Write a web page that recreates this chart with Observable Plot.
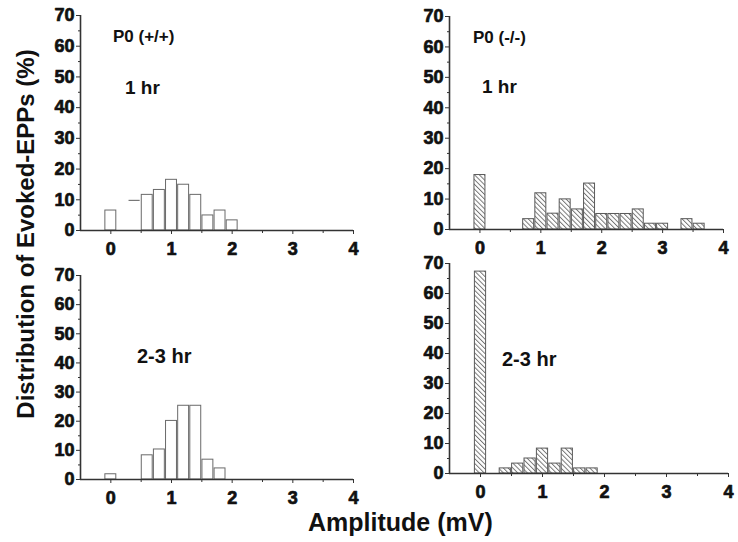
<!DOCTYPE html>
<html>
<head>
<meta charset="utf-8">
<script src="https://cdn.jsdelivr.net/npm/d3@7"></script>
<script src="https://cdn.jsdelivr.net/npm/@observablehq/plot@0.6"></script>
<style>
  body { margin: 0; background: #fff; }
  #chart { position: relative; width: 738px; height: 542px; overflow: hidden; background: #fff;
           font-family: "Liberation Sans", Arial, sans-serif; }
  .panel { position: absolute; }
  #labels { position: absolute; left: 0; top: 0; pointer-events: none; }
</style>
</head>
<body>
<div id="chart"></div>
<script>
// ---- data (bin centres in mV, distribution in %) ----
const binsTL = [0, 0.6, 0.8, 1.0, 1.2, 1.4, 1.6, 1.8, 2.0];
const valsTL = [6.5, 11.6, 13.2, 16.5, 14.9, 11.6, 4.9, 6.5, 3.3];
const dashBinsTL = [0.4];
const dashValsTL = [9.8];

const binsTR = [0, 0.8, 1.0, 1.2, 1.4, 1.6, 1.8, 2.0, 2.2, 2.4, 2.6, 2.8, 3.0, 3.4, 3.6];
const valsTR = [17.9, 3.4, 11.9, 5.2, 9.9, 6.6, 15.1, 5.1, 5.1, 5.1, 6.6, 1.9, 1.9, 3.4, 1.9];

const binsBL = [0, 0.6, 0.8, 1.0, 1.2, 1.4, 1.6, 1.8];
const valsBL = [1.8, 8.3, 10.3, 20.1, 25.3, 25.3, 6.8, 3.8];

const binsBR = [0, 0.4, 0.6, 0.8, 1.0, 1.2, 1.4, 1.6, 1.8];
const valsBR = [67.3, 1.7, 3.3, 5.0, 8.3, 3.3, 8.3, 1.7, 1.7];

const xTicks = [0, 1, 2, 3, 4];
const xMinorTicks = [0.5, 1.5, 2.5, 3.5];
const yTicks = [0, 10, 20, 30, 40, 50, 60, 70];
const yMinorTicks = [5, 15, 25, 35, 45, 55, 65];

const panelTitles = ["P0 (+/+)", "P0 (-/-)"];
const timeLabels = ["1 hr", "1 hr", "2-3 hr", "2-3 hr"];
const xLabel = "Amplitude (mV)";
const yLabel = "Distribution of Evoked-EPPs (%)";

const binWidth = 0.2;
const toRows = (bins, vals) => bins.map((x, i) => ({x, v: vals[i]}));

// ---- hatch pattern defs ----
const chart = document.getElementById("chart");
const NS = "http://www.w3.org/2000/svg";
const defsSvg = document.createElementNS(NS, "svg");
defsSvg.setAttribute("width", 0); defsSvg.setAttribute("height", 0);
defsSvg.style.position = "absolute";
defsSvg.innerHTML = `<defs><pattern id="hatch" patternUnits="userSpaceOnUse" width="3.4" height="3.4" patternTransform="rotate(-45)">
  <rect width="3.4" height="3.4" fill="#fff"></rect>
  <line x1="0.5" y1="0" x2="0.5" y2="3.4" stroke="#6a6a6a" stroke-width="0.9"></line>
</pattern></defs>`;
chart.appendChild(defsSvg);

const FONT = '"Liberation Sans", Arial, sans-serif';
const tickText = {fontWeight: "bold", fontSize: 18, fill: "#111", stroke: "#111", strokeWidth: 0.7, fontFamily: FONT};

function panel({left, top, width, height, mL, mR, mT, mB, rows, hatched, dash}) {
  const marks = [
    Plot.rectY(rows, {x1: d => d.x - binWidth / 2, x2: d => d.x + binWidth / 2, y: "v",
      fill: hatched ? "url(#hatch)" : "#fff", stroke: hatched ? "#5a5a5a" : "#6a6a6a",
      strokeWidth: 1, insetLeft: 0.6, insetRight: 0.6})
  ];
  if (dash) marks.push(Plot.ruleY(dash, {x1: d => d.x - binWidth / 2, x2: d => d.x + binWidth / 2.4, y: "v", stroke: "#777", strokeWidth: 1.2}));
  marks.push(
    Plot.ruleY([0], {stroke: "#333", strokeWidth: 1.6}),
    Plot.ruleX([-0.5], {stroke: "#333", strokeWidth: 1.6}),
    Plot.axisX({ticks: xTicks, label: null, tickSize: 4, text: null, stroke: "#333"}),
    Plot.axisX({ticks: xMinorTicks, label: null, tickSize: 3, text: null, stroke: "#333"}),
    Plot.axisY({ticks: yTicks, label: null, tickSize: 4, text: null, stroke: "#333"}),
    Plot.axisY({ticks: yMinorTicks, label: null, tickSize: 2, text: null, stroke: "#333"}),
    Plot.text(xTicks, {x: d => d, y: 0, text: d => String(d), dy: 19, ...tickText}),
    Plot.text(yTicks, {x: -0.5, y: d => d, text: d => String(d), dx: -6, textAnchor: "end", ...tickText})
  );
  const svg = Plot.plot({
    width, height,
    marginLeft: mL, marginRight: mR, marginTop: mT, marginBottom: mB,
    x: {domain: [-0.5, 4]},
    y: {domain: [0, 70]},
    style: {fontFamily: FONT, fontSize: "18px", color: "#111", background: "transparent", overflow: "visible"},
    marks
  });
  const wrap = document.createElement("div");
  wrap.className = "panel";
  wrap.style.left = left + "px"; wrap.style.top = top + "px";
  wrap.appendChild(svg);
  chart.appendChild(wrap);
}

panel({left: 40, top: 0, width: 330, height: 260, mL: 40, mR: 17, mT: 15, mB: 30,
       rows: toRows(binsTL, valsTL), hatched: false, dash: toRows(dashBinsTL, dashValsTL)});
panel({left: 400, top: 0, width: 338, height: 260, mL: 49, mR: 15, mT: 16, mB: 31,
       rows: toRows(binsTR, valsTR), hatched: true});
panel({left: 40, top: 250, width: 330, height: 260, mL: 40, mR: 17, mT: 25, mB: 31,
       rows: toRows(binsBL, valsBL), hatched: false});
panel({left: 400, top: 250, width: 338, height: 260, mL: 49, mR: 10, mT: 13, mB: 37,
       rows: toRows(binsBR, valsBR), hatched: true});

// ---- text labels ----
const lab = document.createElementNS(NS, "svg");
lab.setAttribute("id", "labels");
lab.setAttribute("width", 738); lab.setAttribute("height", 542);
const texts = [
  {t: panelTitles[0], x: 113, y: 42, s: 17},
  {t: panelTitles[1], x: 473, y: 43, s: 17},
  {t: timeLabels[0], x: 125, y: 94, s: 19},
  {t: timeLabels[1], x: 482, y: 93, s: 19},
  {t: timeLabels[2], x: 137, y: 363, s: 20},
  {t: timeLabels[3], x: 502, y: 366, s: 20},
  {t: xLabel, x: 308, y: 531, s: 25}
];
for (const o of texts) {
  const el = document.createElementNS(NS, "text");
  el.setAttribute("x", o.x); el.setAttribute("y", o.y);
  el.setAttribute("font-size", o.s); el.setAttribute("font-weight", "bold");
  el.setAttribute("font-family", FONT);
  el.setAttribute("fill", "#111");
  el.textContent = o.t;
  lab.appendChild(el);
}
const yl = document.createElementNS(NS, "text");
yl.setAttribute("transform", "translate(34,234) rotate(-90)");
yl.setAttribute("text-anchor", "middle");
yl.setAttribute("font-size", 24); yl.setAttribute("font-weight", "bold");
yl.setAttribute("font-family", FONT);
yl.setAttribute("fill", "#111");
yl.textContent = yLabel;
lab.appendChild(yl);
chart.appendChild(lab);
</script>
</body>
</html>
